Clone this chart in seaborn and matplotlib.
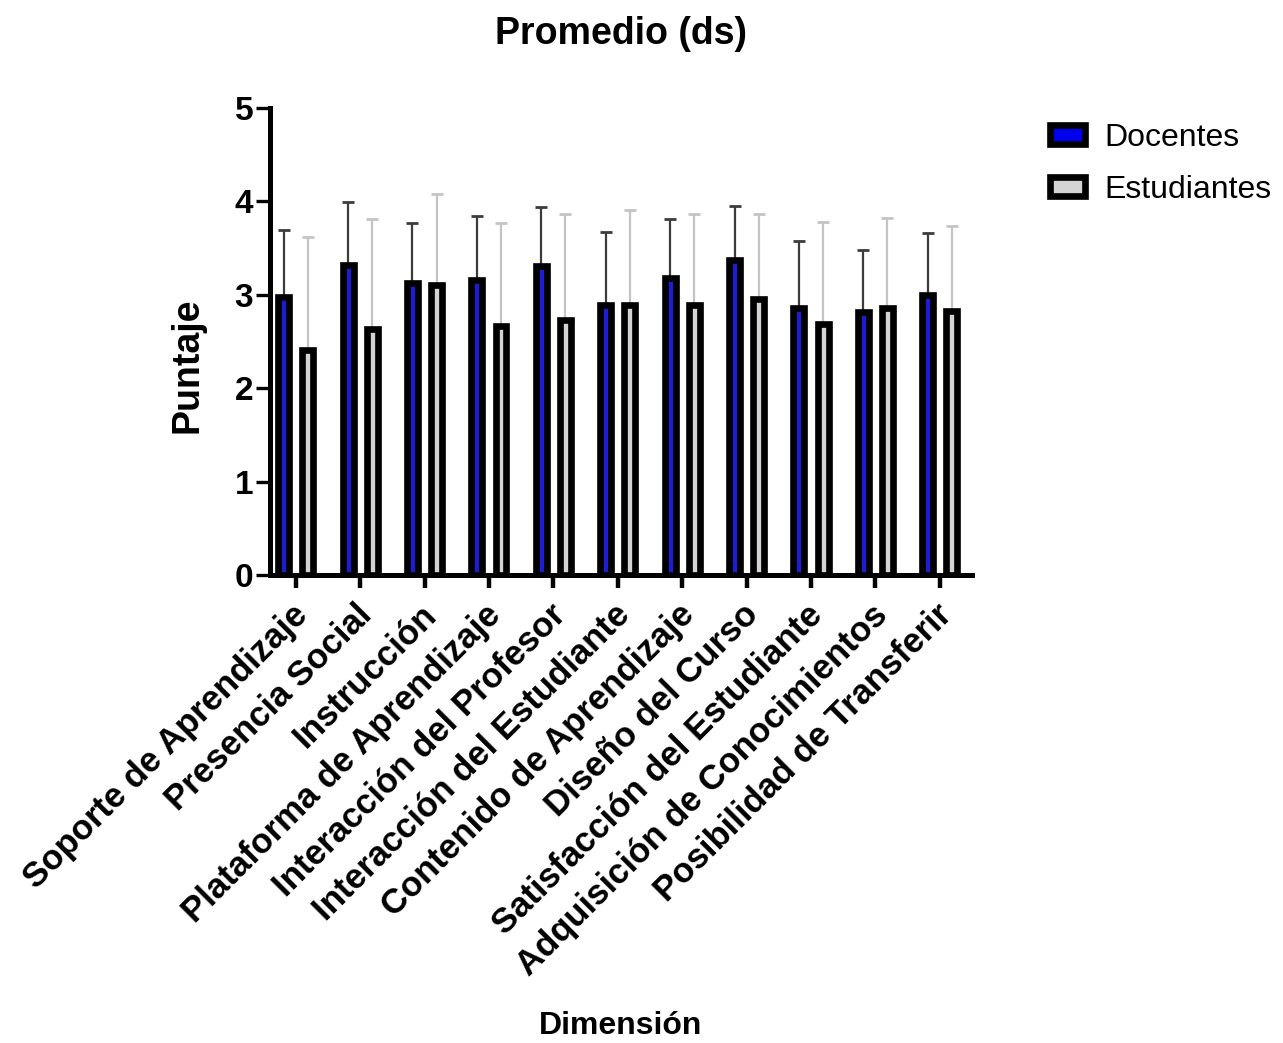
import numpy as np
import pandas as pd
import matplotlib
matplotlib.use("Agg")
import matplotlib.pyplot as plt
import matplotlib.transforms as mtransforms
from matplotlib.patches import Patch
import seaborn as sns

categories = ["Soporte de Aprendizaje", "Presencia Social", "Instrucción",
              "Plataforma de Aprendizaje", "Interacción del Profesor",
              "Interacción del Estudiante", "Contenido de Aprendizaje",
              "Diseño del Curso", "Satisfacción del Estudiante",
              "Adquisición de Conocimientos", "Posibilidad de Transferir"]
groups = ["Docentes", "Estudiantes"]
docentes_mean = [2.98, 3.32, 3.13, 3.16, 3.31, 2.89, 3.18, 3.37, 2.86, 2.82, 3.00]
docentes_sd = [0.71, 0.67, 0.64, 0.68, 0.63, 0.78, 0.63, 0.58, 0.72, 0.66, 0.66]
estudiantes_mean = [2.41, 2.63, 3.10, 2.67, 2.73, 2.89, 2.89, 2.95, 2.69, 2.86, 2.83]
estudiantes_sd = [1.21, 1.18, 0.98, 1.10, 1.14, 1.02, 0.98, 0.92, 1.09, 0.96, 0.91]
y_ticks = [0, 1, 2, 3, 4, 5]

sns.set_theme(style="white")
plt.rcParams["font.family"] = ["Liberation Sans", "DejaVu Sans"]
plt.rcParams["text.color"] = "black"
plt.rcParams["axes.labelcolor"] = "black"
plt.rcParams["xtick.color"] = "black"
plt.rcParams["ytick.color"] = "black"

df = pd.DataFrame({
    "Dimensión": categories * 2,
    "Grupo": [groups[0]] * len(categories) + [groups[1]] * len(categories),
    "Puntaje": docentes_mean + estudiantes_mean,
})

fill_colors = {"Docentes": "#0000ee", "Estudiantes": "#d4d4d4"}
err_colors = {"Docentes": "#3c3c3c", "Estudiantes": "#c4c4c4"}
sd_map = {"Docentes": docentes_sd, "Estudiantes": estudiantes_sd}

fig = plt.figure(figsize=(12.83, 10.43), dpi=100)
ax = fig.add_axes([270 / 1283, 1 - 575 / 1043, 702 / 1283, 467 / 1043])

sns.barplot(data=df, x="Dimensión", y="Puntaje", hue="Grupo",
            order=categories, hue_order=groups, palette=fill_colors,
            width=0.75, gap=0.55, errorbar=None, edgecolor="black",
            linewidth=4.8, legend=False, ax=ax, zorder=3)

# error bars (upper only), placed at the bar centers drawn by seaborn
for cont, g in zip(ax.containers, groups):
    xs = [p.get_x() + p.get_width() / 2 for p in cont.patches]
    hs = [p.get_height() for p in cont.patches]
    sd = sd_map[g]
    ax.errorbar(xs, hs, yerr=[np.zeros(len(sd)), sd], fmt="none",
                ecolor=err_colors[g], elinewidth=1.6, capsize=4.5,
                capthick=2.0, zorder=2)

ax.set_xlim(-0.40, 10.5)
ax.set_ylim(0, 5)
ax.set_yticks(y_ticks)
ax.set_yticklabels([str(t) for t in y_ticks])

for side in ["top", "right"]:
    ax.spines[side].set_visible(False)
for side in ["left", "bottom"]:
    ax.spines[side].set_linewidth(3.6)
    ax.spines[side].set_color("black")

ax.tick_params(axis="y", which="major", direction="out", length=10, width=2.4,
               color="black", pad=2, labelsize=24, left=True)
ax.tick_params(axis="x", which="major", direction="out", length=9, width=3.2,
               color="black", pad=16, labelsize=25, bottom=True)
for lbl in ax.get_yticklabels():
    lbl.set_fontweight("bold")
offset = mtransforms.ScaledTranslation(7 / 100, 0, fig.dpi_scale_trans)
for lbl in ax.get_xticklabels():
    lbl.set_fontweight("bold")
    lbl.set_rotation(45)
    lbl.set_ha("right")
    lbl.set_va("center")
    lbl.set_rotation_mode("anchor")
    lbl.set_transform(lbl.get_transform() + offset)

ax.set_title("Promedio (ds)", fontsize=27, fontweight="bold", pad=46)
ax.set_xlabel("Dimensión", fontsize=23, fontweight="bold", labelpad=21)
ax.set_ylabel("Puntaje", fontsize=27, fontweight="bold")
ax.yaxis.set_label_coords(-0.092, 0.45)
ax.grid(False)

handles = [Patch(facecolor=fill_colors[g], edgecolor="black", linewidth=4.8, label=g)
           for g in groups]
fig.legend(handles=handles, loc="upper left",
           bbox_to_anchor=(1034 / 1283, 1 - 107 / 1043), frameon=False,
           fontsize=23, handlelength=1.1, handleheight=0.52,
           handletextpad=0.6, labelspacing=0.68, borderpad=0.0)

fig.savefig("out.png", dpi=100, facecolor="white")
